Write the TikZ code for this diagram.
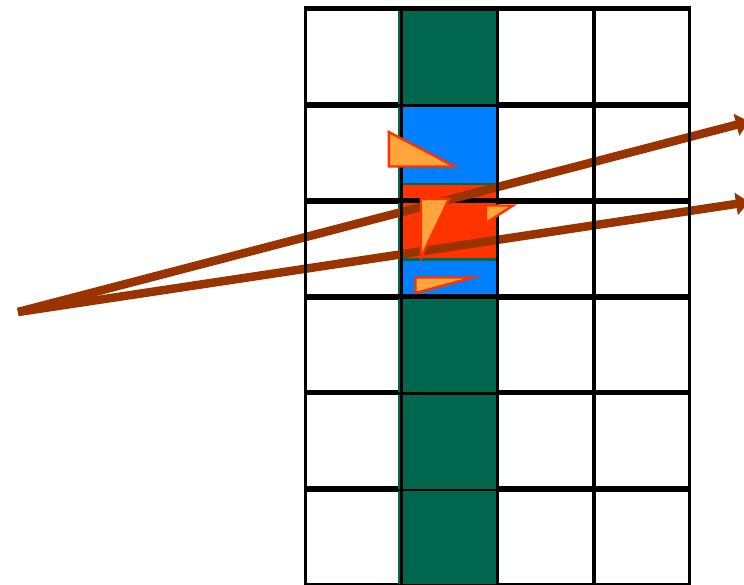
\documentclass[tikz,border=0pt]{standalone}
\usepackage{tikz}
\usetikzlibrary{arrows.meta}

\definecolor{cellgreen}{RGB}{0,102,77}
\definecolor{cellblue}{RGB}{0,128,255}
\definecolor{cellred}{RGB}{255,51,0}
\definecolor{triorange}{RGB}{255,165,60}
\definecolor{raybrown}{RGB}{153,51,0}

\tikzset{
    hline/.style={black, line width=5.8pt},
    vline/.style={black, line width=3.2pt},
    ray/.style={raybrown, line width=8.5pt, -{Triangle[length=13pt, width=22pt]}},
    tri/.style={fill=triorange, draw=cellred, line width=2.4pt, miter limit=10}
}

\begin{document}
\begin{tikzpicture}[x=1pt, y=-1pt]
            \useasboundingbox (0,0) rectangle (744,585);

            % Horizontal grid lines
            \foreach \y in {8.5,104.8,200.7,296.7,392.5,488.8}
                \draw[hline] (304,\y) -- (691,\y);
            \draw[vline] (304,584.3) -- (691,584.3);

            % Green column, one cell per row
            \foreach \ya/\yb in {11/104,107/198,203/294,299/392,395/488.5,491/584}
                \fill[cellgreen] (398,\ya) rectangle (497,\yb);

            % Blue and red cells
            \fill[cellblue] (403,107) rectangle (496.5,183);
            \fill[cellred] (403,185) rectangle (496.5,198);
            \fill[cellred] (403,203) rectangle (496.5,258);
            \fill[cellblue] (403,261) rectangle (496.5,294);

            % Rays
            \coordinate (origin) at (18,312);
            \coordinate (rayup) at (749,121.5);
            \coordinate (raydown) at (749,202);
            \draw[ray] (origin) -- (rayup);
            \draw[ray] (origin) -- (raydown);

            % Vertical grid lines
            \foreach \x in {305.8,401.8,497.6,594,689.8}
                \draw[vline] (\x,6) -- (\x,585);

            % Triangles
            \draw[tri] (388.8,132) -- (388.8,166.5) -- (454.5,166.5) -- cycle;
            \draw[tri] (421,199) -- (449,199) -- (421,257.5) -- cycle;
            \draw[tri] (486,205.5) -- (513,205.5) -- (486,223) -- cycle;
            \draw[tri] (415.5,277.5) -- (473,277.5) -- (415.5,293) -- cycle;
        \end{tikzpicture}
\end{document}
